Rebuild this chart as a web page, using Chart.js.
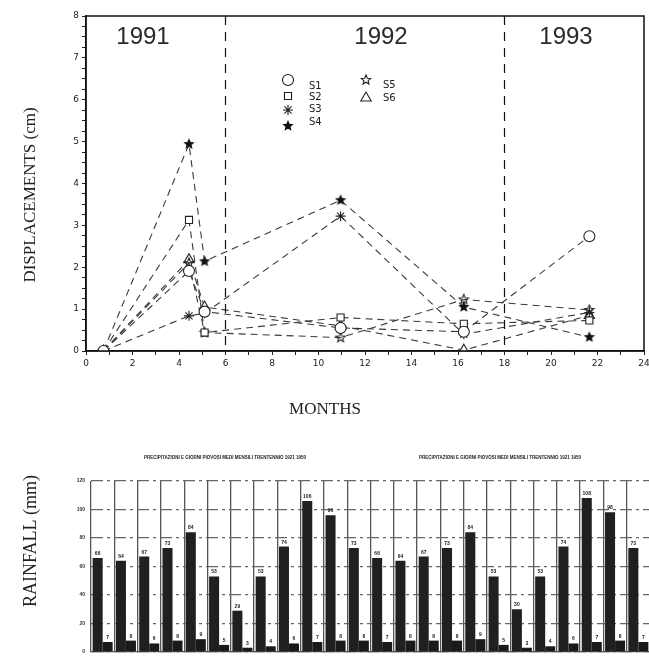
<!DOCTYPE html>
<html>
<head>
<meta charset="utf-8">
<script src="https://cdn.jsdelivr.net/npm/chart.js@4.4.0/dist/chart.umd.min.js"></script>
<style>
  html, body { margin: 0; padding: 0; background: #fff; }
  #wrap { position: relative; width: 649px; height: 663px; overflow: hidden; }
  #topChart { position: absolute; left: 0; top: 0; }
  #rainChart { position: absolute; left: 0; top: 440px; }
</style>
</head>
<body>
<div id="wrap">
  <canvas id="topChart" width="660" height="440"></canvas>
  <canvas id="rainChart" width="660" height="223"></canvas>
</div>
<script>
// survey dates (months from start) and displacements (cm)
var months = [0.75, 4.43, 5.1, 10.95, 16.25, 21.65];
var s1 = [0, 1.91, 0.94, 0.55, 0.46, 2.74];
var s2 = [0, 3.13, 0.44, 0.8, 0.65, 0.73];
var s3 = [0, 0.84, 0.9, 3.22, 0.4, 0.92];
var s4 = [0, 4.94, 2.14, 3.6, 1.05, 0.33];
var s5 = [0, 2.1, 0.44, 0.32, 1.23, 0.98];
var s6 = [0, 2.18, 1.05, 0.6, 0.02, 0.85];
var seriesNames = ['S1', 'S2', 'S3', 'S4', 'S5', 'S6'];
var years = ['1991', '1992', '1993'];
var yearBreaks = [6, 18];

// monthly rainfall (mm) and rainy days, two panels of 12 months
var rainLabels = ['G','F','M','A','M','G','L','A','S','O','N','D',
                  'G','F','M','A','M','G','L','A','S','O','N','D'];
var rainfall = [66, 64, 67, 73, 84, 53, 29, 53, 74, 106, 96, 73,
                66, 64, 67, 73, 84, 53, 30, 53, 74, 108, 98, 73];
var rainyDays = [7, 8, 6, 8, 9, 5, 3, 4, 6, 7, 8, 8,
                 7, 8, 8, 8, 9, 5, 3, 4, 6, 7, 8, 7];
var rainTitle = 'PRECIPITAZIONI E GIORNI PIOVOSI MEDI MENSILI TRENTENNIO 1921 1950';

function makeStar(r, filled) {
  var c = document.createElement('canvas');
  var s = Math.ceil(r * 2 + 4);
  c.width = s; c.height = s;
  var g = c.getContext('2d');
  g.beginPath();
  for (var i = 0; i < 10; i++) {
    var a = -Math.PI / 2 + i * Math.PI / 5;
    var rr = i % 2 === 0 ? r : r * 0.45;
    g.lineTo(s / 2 + rr * Math.cos(a), s / 2 + rr * Math.sin(a));
  }
  g.closePath();
  if (filled) { g.fillStyle = '#111'; g.fill(); }
  else { g.strokeStyle = '#222'; g.lineWidth = 1.1; g.stroke(); }
  return c;
}

var filledStar = makeStar(6, true);
var openStar = makeStar(5, false);

var styles = ['circle', 'rect', 'star', filledStar, openStar, 'triangle'];
var radii = [5.5, 5, 5, 6, 5, 6];
var allSeries = [s1, s2, s3, s4, s5, s6];

var datasets = [];
for (var i = 0; i < allSeries.length; i++) {
  datasets.push({
    label: seriesNames[i],
    data: months.map(function (m, j) { return { x: m, y: allSeries[i][j] }; }),
    showLine: true,
    borderColor: '#3a3a3a',
    borderWidth: 1.1,
    borderDash: [7, 5],
    fill: false,
    tension: 0,
    pointStyle: styles[i],
    pointRadius: radii[i],
    pointBorderColor: '#222',
    pointBackgroundColor: '#fff',
    pointBorderWidth: 1.1
  });
}

var topDecor = {
  id: 'topDecor',
  afterDraw: function (chart) {
    var ctx = chart.ctx, a = chart.chartArea, xs = chart.scales.x;
    ctx.save();
    ctx.strokeStyle = '#111';
    ctx.lineWidth = 1.5;
    ctx.strokeRect(a.left, a.top, a.right - a.left, a.bottom - a.top);

    ctx.setLineDash([9, 7]);
    ctx.lineWidth = 1.2;
    yearBreaks.forEach(function (b) {
      var x = xs.getPixelForValue(b);
      ctx.beginPath(); ctx.moveTo(x, a.top); ctx.lineTo(x, a.bottom); ctx.stroke();
    });
    ctx.setLineDash([]);

    ctx.fillStyle = '#2a2a2a';
    ctx.font = '24px "Liberation Sans"';
    ctx.textAlign = 'center';
    ctx.textBaseline = 'middle';
    var yearX = [143, 381, 566];
    years.forEach(function (y, k) { ctx.fillText(y, yearX[k], 37); });

    // legend
    var legendPos = [[288, 80], [288, 96], [288, 110], [288, 126], [366, 80], [366, 98]];
    var textPos = [[309, 86], [309, 97], [309, 109], [309, 122], [383, 85], [383, 98]];
    ctx.font = '10px "DejaVu Sans"';
    ctx.textAlign = 'left';
    for (var k = 0; k < 6; k++) {
      ctx.strokeStyle = '#222'; ctx.fillStyle = '#fff'; ctx.lineWidth = 1.1;
      var rad = (k === 4) ? 4 : radii[k];
      Chart.helpers.drawPoint(ctx, { pointStyle: styles[k], radius: rad, borderWidth: 1.1, rotation: 0 }, legendPos[k][0], legendPos[k][1]);
      ctx.fillStyle = '#222';
      ctx.fillText(seriesNames[k], textPos[k][0], textPos[k][1]);
    }

    // axis titles
    ctx.font = '17px "Liberation Serif"';
    ctx.textAlign = 'center';
    ctx.fillText('MONTHS', 325, 410);
    ctx.translate(31, 195);
    ctx.rotate(-Math.PI / 2);
    ctx.fillText('DISPLACEMENTS (cm)', 0, 0);
    ctx.restore();
  }
};

new Chart(document.getElementById('topChart'), {
  type: 'line',
  data: { datasets: datasets },
  options: {
    responsive: false,
    animation: false,
    devicePixelRatio: 1,
    layout: { padding: { left: 0, top: 16, right: 16, bottom: 0 } },
    plugins: { legend: { display: false }, tooltip: { enabled: false } },
    scales: {
      x: {
        type: 'linear', min: 0, max: 24,
        ticks: {
          stepSize: 1, autoSkip: false, maxRotation: 0, padding: 3,
          callback: function (v) { return v % 2 === 0 ? v : ''; },
          font: { family: 'DejaVu Sans', size: 9 }, color: '#222'
        },
        grid: { drawOnChartArea: false, tickLength: 4, color: '#222' },
        border: { color: '#111', width: 1.5 },
        afterFit: function (s) { s.height = 89; }
      },
      y: {
        min: 0, max: 8,
        ticks: {
          stepSize: 0.25, autoSkip: false, padding: 3,
          callback: function (v) { return Number.isInteger(v) ? v : ''; },
          font: { family: 'DejaVu Sans', size: 9 }, color: '#222'
        },
        grid: { drawOnChartArea: false, tickLength: 4, color: '#222' },
        border: { color: '#111', width: 1.5 },
        afterFit: function (s) { s.width = 86; }
      }
    }
  },
  plugins: [topDecor]
});

var rainDecor = {
  id: 'rainDecor',
  afterDraw: function (chart) {
    var ctx = chart.ctx;
    ctx.save();
    ctx.fillStyle = '#222';
    ctx.textAlign = 'center';
    ctx.textBaseline = 'alphabetic';
    ctx.font = 'bold 5px "Liberation Sans"';
    for (var d = 0; d < 2; d++) {
      var meta = chart.getDatasetMeta(d);
      var vals = d === 0 ? rainfall : rainyDays;
      meta.data.forEach(function (bar, j) {
        ctx.fillText(vals[j], bar.x, bar.y - 3);
      });
    }
    ctx.font = 'bold 4.5px "Liberation Sans"';
    ctx.fillText(rainTitle, 225, 19);
    ctx.fillText(rainTitle, 500, 19);

    ctx.font = '18px "Liberation Serif"';
    ctx.translate(31, 101);
    ctx.rotate(-Math.PI / 2);
    ctx.textBaseline = 'middle';
    ctx.fillText('RAINFALL (mm)', 0, 0);
    ctx.restore();
  }
};

new Chart(document.getElementById('rainChart'), {
  type: 'bar',
  data: {
    labels: rainLabels,
    datasets: [
      { data: rainfall, backgroundColor: '#202020', categoryPercentage: 0.86, barPercentage: 1 },
      { data: rainyDays, backgroundColor: '#1a1a1a', categoryPercentage: 0.86, barPercentage: 1 }
    ]
  },
  options: {
    responsive: false,
    animation: false,
    devicePixelRatio: 1,
    layout: { padding: { left: 0, top: 41, right: 10, bottom: 0 } },
    plugins: { legend: { display: false }, tooltip: { enabled: false } },
    scales: {
      x: {
        ticks: { display: false },
        grid: { color: '#555', lineWidth: 1.3, offset: true, drawTicks: false },
        border: { color: '#555', width: 1.3 },
        afterFit: function (s) { s.height = 11; }
      },
      y: {
        min: 0, max: 120,
        ticks: { stepSize: 20, padding: 6, font: { family: 'Liberation Sans', size: 5, weight: 'bold' }, color: '#333' },
        grid: { color: '#666', lineWidth: 1.2, drawTicks: false },
        border: { display: false, dash: [12, 4, 3, 4] },
        afterFit: function (s) { s.width = 91; }
      }
    }
  },
  plugins: [rainDecor]
});
</script>
</body>
</html>
